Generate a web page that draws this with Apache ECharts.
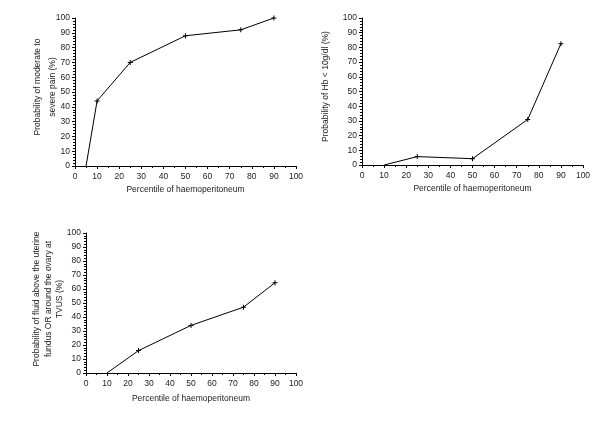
<!DOCTYPE html>
<html><head><meta charset="utf-8">
<script src="https://cdn.jsdelivr.net/npm/echarts@6/dist/echarts.min.js"></script>
<style>html,body{margin:0;padding:0;background:#fff}#c{width:600px;height:427px}</style>
</head><body><div id="c"></div>
<script>
const xTicks = [0,10,20,30,40,50,60,70,80,90,100];
const painX = [5,10,25,50,75,90];
const painY = [0,44,70,88,92,100];
const hbX = [10,25,50,75,90];
const hbY = [0,5.7,4.3,31,82.5];
const fluidX = [10,25,50,75,90];
const fluidY = [0,16,34,47,64.5];
const xName = 'Percentile of haemoperitoneum';
const yNames = ['Probability of moderate to\nsevere pain (%)', 'Probability of Hb < 10g/dl (%)', 'Probability of fluid above the uterine\nfundus OR around the ovary at\nTVUS (%)'];

const txt = '#222';
const font = 'Liberation Sans';
const plus = 'path://M4,0h2v10h-2zM0,4h10v2h-10z';
const grids = [
  {left:75, top:18, width:221, height:148},
  {left:362, top:18, width:221, height:147},
  {left:86, top:233, width:210, height:140}
];
const xGaps = [19, 19, 21];
const yGaps = [15, 30, 20];
const yLH = [15, 12, 11.7];
const yShift = [10, 10, 8];
function xAxis(i){
  return {type:'value', gridIndex:i, min:0, max:100, interval:10,
    name:xName, nameLocation:'middle', nameGap:xGaps[i], nameMoveOverlap:false,
    nameTextStyle:{color:txt, fontSize:8.5, fontFamily:font},
    axisLine:{show:true, onZero:false, lineStyle:{color:'#000', width:1}},
    axisTick:{show:true, length:3, lineStyle:{color:'#000'}},
    minorTick:{show:true, splitNumber:2, length:2, lineStyle:{color:'#000'}},
    splitLine:{show:false},
    axisLabel:{color:txt, fontSize:8.5, fontFamily:font, margin:6}
  };
}
function yAxis(i){
  return {type:'value', gridIndex:i, min:0, max:100, interval:10,
    name:yNames[i], nameLocation:'middle', nameRotate:90, nameGap:yGaps[i], nameMoveOverlap:false,
    nameTextStyle:{color:txt, fontSize:8.5, fontFamily:font, lineHeight:yLH[i], padding:[0,0,0,yShift[i]]},
    axisLine:{show:true, lineStyle:{color:'#000', width:1}},
    axisTick:{show:true, length:3, lineStyle:{color:'#000'}},
    minorTick:{show:true, splitNumber:5, length:2, lineStyle:{color:'#000'}},
    splitLine:{show:false},
    axisLabel:{color:txt, fontSize:8.5, fontFamily:font, margin:5}
  };
}
function mk(xs, ys){
  return xs.map((x,k)=>({value:[x, ys[k]], symbol: k===0 ? 'none' : plus}));
}
function series(i, xs, ys){
  return {type:'line', xAxisIndex:i, yAxisIndex:i, data:mk(xs,ys), symbolSize:5,
    lineStyle:{color:'#000', width:1}, itemStyle:{color:'#000'}, animation:false, silent:true};
}
const chart = echarts.init(document.getElementById('c'), null, {renderer:'canvas'});
chart.setOption({
  backgroundColor:'#fff',
  animation:false,
  grid:grids,
  xAxis:[xAxis(0), xAxis(1), xAxis(2)],
  yAxis:[yAxis(0), yAxis(1), yAxis(2)],
  series:[series(0,painX,painY), series(1,hbX,hbY), series(2,fluidX,fluidY)]
});
</script></body></html>
